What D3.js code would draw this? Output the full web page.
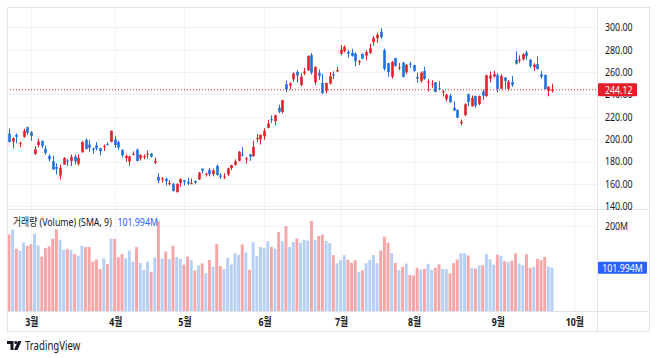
<!DOCTYPE html>
<html><head><meta charset="utf-8">
<script src="https://cdn.jsdelivr.net/npm/d3@7"></script>
<style>html,body{margin:0;padding:0;background:#fff;}svg{display:block;font-family:"Noto Sans","Noto Sans CJK KR",Roboto,sans-serif;}</style>
</head><body><svg id="c" width="658" height="358"></svg>
<script>
const dates = ["02-21","02-22","02-23","02-24","02-27","02-28",
"03-01","03-02","03-03","03-06","03-07","03-08","03-09","03-10","03-13","03-14","03-15","03-16","03-17","03-20","03-21","03-22","03-23","03-24","03-27","03-28","03-29","03-30","03-31",
"04-03","04-04","04-05","04-06","04-10","04-11","04-12","04-13","04-14","04-17","04-18","04-19","04-20","04-21","04-24","04-25","04-26","04-27","04-28",
"05-01","05-02","05-03","05-04","05-05","05-08","05-09","05-10","05-11","05-12","05-15","05-16","05-17","05-18","05-19","05-22","05-23","05-24","05-25","05-26","05-30","05-31",
"06-01","06-02","06-05","06-06","06-07","06-08","06-09","06-12","06-13","06-14","06-15","06-16","06-20","06-21","06-22","06-23","06-26","06-27","06-28","06-29","06-30",
"07-03","07-05","07-06","07-07","07-10","07-11","07-12","07-13","07-14","07-17","07-18","07-19","07-20","07-21","07-24","07-25","07-26","07-27","07-28","07-31",
"08-01","08-02","08-03","08-04","08-07","08-08","08-09","08-10","08-11","08-14","08-15","08-16","08-17","08-18","08-21","08-22","08-23","08-24","08-25","08-28","08-29","08-30","08-31",
"09-01","09-05","09-06","09-07","09-08","09-12","09-13","09-14","09-15","09-18","09-19","09-20","09-21","09-22","09-25","09-26"];
const futureDates = ["09-27","09-28","09-29","09-30","10-01","10-02"];

const open = [204.99,197.93,203.91,196.33,202.03,210.59,
206.21,186.74,194.80,198.54,191.38,185.04,180.25,175.13,167.46,177.31,180.80,180.37,184.52,178.08,188.28,199.30,195.26,191.65,194.42,192.00,193.13,195.58,197.53,
199.91,197.32,190.52,183.08,179.94,186.69,190.74,182.96,183.95,186.32,187.15,179.10,166.17,164.80,164.65,159.82,160.29,152.64,160.90,
163.17,161.88,160.01,162.71,163.97,173.72,168.95,172.55,168.70,176.07,167.66,165.65,168.41,174.22,177.17,180.70,186.20,182.56,186.54,184.62,200.10,199.78,
202.59,210.15,217.80,216.14,228.00,224.22,249.07,247.94,253.51,260.17,248.40,258.92,261.50,275.13,250.77,259.29,250.07,243.24,249.70,258.03,260.60,
276.49,278.82,278.09,277.30,276.47,268.65,276.33,274.59,277.01,286.63,290.15,296.04,279.56,268.00,255.85,272.38,263.66,268.31,259.86,267.48,
266.26,255.57,252.04,260.97,251.45,248.84,250.87,245.40,241.77,235.70,238.73,228.02,226.06,214.12,221.55,240.25,229.34,238.66,231.31,242.58,238.58,254.20,255.98,
257.26,245.00,255.14,245.07,251.22,270.76,270.07,271.32,277.55,271.16,264.35,267.04,257.85,257.40,243.38,242.98];
const high = [209.71,201.99,205.14,197.67,209.42,211.23,
207.20,193.75,200.48,198.60,194.20,186.50,185.18,178.29,177.35,183.80,182.34,186.22,186.22,186.44,198.00,200.66,199.31,192.36,197.39,192.35,195.29,197.33,207.79,
202.69,198.74,190.68,186.39,185.10,189.19,191.58,186.50,186.28,189.69,187.69,183.50,169.70,166.00,165.65,163.47,160.67,160.48,165.00,
163.28,165.49,165.00,162.95,170.79,173.80,169.82,174.43,173.57,177.38,169.76,169.52,174.50,177.06,181.95,189.32,192.96,184.22,186.78,198.60,204.48,203.95,
209.80,217.25,221.29,221.91,230.83,235.23,252.42,250.97,259.68,261.57,258.95,263.60,274.75,276.99,265.00,262.45,258.37,250.39,259.88,260.74,264.45,
284.25,283.85,279.97,280.78,277.52,270.90,276.52,279.45,285.30,292.23,295.26,299.29,280.93,268.00,269.85,272.90,268.04,269.13,267.25,269.08,
266.47,259.52,260.49,264.77,253.65,252.79,251.10,251.80,243.79,240.66,240.50,233.97,226.74,217.58,232.13,240.82,238.98,238.92,239.00,244.38,257.48,260.51,261.18,
259.08,258.00,255.39,252.81,256.52,278.39,274.98,276.71,278.98,271.44,267.85,273.93,260.86,257.79,247.10,249.55];
const low = [197.22,191.78,196.33,192.80,201.26,203.75,
198.52,186.01,192.88,192.30,186.10,180.00,172.51,168.44,163.91,177.14,176.03,176.10,177.33,176.35,188.04,190.95,188.65,187.15,189.94,185.43,189.44,194.42,197.20,
192.20,190.32,183.76,179.74,176.11,185.65,180.31,180.94,182.01,182.69,183.58,177.65,160.56,161.32,158.61,158.75,153.14,152.37,157.32,
158.83,158.93,159.91,159.65,163.51,169.19,166.56,166.68,166.79,167.23,164.55,164.35,167.19,172.45,176.31,180.11,184.67,178.22,180.58,184.53,197.53,195.12,
199.37,209.75,214.52,212.53,223.20,223.01,242.02,244.59,251.34,250.50,247.29,257.21,261.12,257.78,248.25,252.80,240.70,240.85,248.89,253.61,259.89,
275.11,277.60,272.88,273.77,265.10,266.37,271.46,270.60,276.31,283.57,286.01,289.52,261.20,255.80,254.12,265.00,261.75,255.30,258.23,263.78,
260.25,250.49,250.52,253.11,242.76,245.91,241.90,243.99,238.02,233.75,232.61,225.38,218.83,212.36,220.58,229.55,229.29,228.18,230.35,235.35,237.77,250.59,255.05,
242.01,244.86,245.06,243.27,246.67,266.60,268.10,270.42,271.00,263.76,261.20,262.46,254.21,244.48,238.31,241.66];
const close = [197.37,200.86,202.07,196.88,207.63,205.71,
202.77,190.90,197.79,193.81,187.71,182.00,172.92,173.44,174.48,183.26,180.45,184.13,180.13,183.25,197.58,191.15,192.22,190.41,191.81,189.19,193.88,195.28,207.46,
194.77,192.58,185.52,185.06,184.51,186.79,180.54,185.90,185.00,187.04,184.31,180.59,162.99,165.08,162.55,160.67,153.75,160.19,164.31,
161.83,160.31,160.61,161.20,170.06,171.79,169.15,168.54,172.08,167.98,166.35,166.52,173.86,176.89,180.14,188.87,185.77,182.90,184.47,193.17,201.16,203.93,
207.52,213.97,217.61,221.31,224.57,234.86,244.40,249.83,258.71,256.79,255.90,260.54,274.45,259.46,264.61,256.60,241.05,250.21,256.24,257.50,261.77,
279.82,282.48,276.54,274.43,269.61,269.79,271.99,277.90,281.38,290.38,293.34,291.26,262.90,260.02,269.06,265.28,264.35,255.71,266.44,267.43,
261.07,254.11,259.32,253.86,251.45,249.70,242.19,245.34,242.65,239.76,232.96,225.60,219.22,215.49,231.28,233.19,236.86,230.04,238.59,238.82,257.18,256.90,258.08,
245.01,256.49,251.92,251.49,248.50,267.48,271.30,276.04,274.39,265.28,266.50,262.59,255.70,244.88,246.99,244.12];
const volume = [180.0,191.8,146.4,142.2,161.0,153.1,
156.9,181.5,154.2,128.1,148.1,151.9,170.0,191.5,167.8,143.7,145.6,143.3,133.9,129.7,153.4,150.4,150.4,116.3,120.9,98.7,123.7,110.3,170.2,
169.5,126.5,133.9,123.9,142.2,115.8,150.3,112.9,96.4,116.1,92.1,125.7,210.9,123.5,140.0,121.9,153.4,127.0,122.5,
109.0,128.3,119.7,95.1,107.4,112.2,88.9,119.8,103.9,157.6,105.6,98.3,125.5,109.5,136.0,132.0,156.9,137.6,96.9,162.1,128.8,150.7,
148.0,164.1,151.1,146.9,185.7,164.5,199.9,150.3,162.4,170.6,160.2,167.6,165.6,211.8,166.9,176.6,179.9,164.9,159.8,131.3,112.3,
119.7,131.3,120.7,113.6,119.4,91.9,95.7,112.7,119.8,131.6,112.4,142.4,175.2,161.1,136.5,112.8,95.9,103.7,111.4,84.6,
83.2,101.8,97.6,99.2,111.1,96.7,101.6,109.7,98.9,98.6,88.2,112.5,120.7,136.3,135.7,130.6,101.1,99.8,106.6,107.7,134.0,121.9,108.9,
132.3,129.5,117.0,115.3,118.6,135.9,111.5,107.7,133.4,101.5,103.7,122.5,119.5,127.5,104.6,101.994];

const priceTicks = [300,280,260,240,220,200,180,160,140];
const volumeTicks = [200];
const monthTickDates = ["03-01","04-03","05-01","06-01","07-03","08-01","09-01","10-02"];
const monthLabels = ["3월","4월","5월","6월","7월","8월","9월","10월"];
const lastPrice = 244.12;
const lastVolumeLabel = "101.994M";
const legendText = "거래량 (Volume) (SMA, 9)";

const UP = "#e3202a", DOWN = "#1f6fde";
const VOL_DOWN = "#f6a6a7", VOL_UP = "#b6cff5";
const GRID = "#f1f3f8", BORDER = "#e0e3eb", TXT = "#131722";
const SX = 0.8; // horizontal text compression seen in the reference

const svg = d3.select("#c");
svg.append("rect").attr("width",658).attr("height",358).attr("fill","#fff");

const L=7, R=650, T=7, B=332, AX=597, P1=209, P2=311;
const allDates = dates.concat(futureDates);
const idx = new Map(allDates.map((d,i)=>[d,i]));
const x = d3.scaleLinear().domain([0, dates.length-1]).range([9, 552]);
const y = d3.scaleLinear().domain([140,300]).range([206.3,27.3]);
const yv = d3.scaleLinear().domain([0,200]).range([P2,226]);

function txt(sel, fx, fy){
  return sel.attr("transform",(d,i)=>`translate(${fx(d,i)},${fy(d,i)}) scale(${SX},1)`);
}

// gridlines
const g = svg.append("g");
g.selectAll(".hg").data(priceTicks).join("line")
  .attr("x1",L).attr("x2",AX).attr("y1",d=>Math.round(y(d))+0.5).attr("y2",d=>Math.round(y(d))+0.5)
  .attr("stroke",GRID);
g.selectAll(".vg").data(volumeTicks).join("line")
  .attr("x1",L).attr("x2",AX).attr("y1",d=>Math.round(yv(d))+0.5).attr("y2",d=>Math.round(yv(d))+0.5)
  .attr("stroke",GRID);
g.selectAll(".mg").data(monthTickDates).join("line")
  .attr("x1",d=>Math.round(x(idx.get(d)))+0.5).attr("x2",d=>Math.round(x(idx.get(d)))+0.5)
  .attr("y1",T).attr("y2",P2).attr("stroke",GRID);

svg.append("clipPath").attr("id","clip").append("rect").attr("x",L+0.5).attr("y",T).attr("width",AX-L-0.5).attr("height",P2-T);
const plot = svg.append("g").attr("clip-path","url(#clip)");

const bars = dates.map((d,i)=>({i, o:open[i], h:high[i], l:low[i], c:close[i], v:volume[i], up: close[i]>=open[i]}));

// volume
const bw = 2.9;
plot.selectAll(".vol").data(bars).join("rect")
  .attr("x",d=>x(d.i)-bw/2).attr("width",bw)
  .attr("y",d=>yv(d.v)).attr("height",d=>P2-yv(d.v))
  .attr("fill",d=>d.up?VOL_UP:VOL_DOWN);

// candles
plot.selectAll(".wick").data(bars).join("line")
  .attr("x1",d=>Math.round(x(d.i))+0.5).attr("x2",d=>Math.round(x(d.i))+0.5)
  .attr("y1",d=>y(d.h)).attr("y2",d=>y(d.l))
  .attr("stroke",d=>d.up?UP:DOWN).attr("stroke-width",1);
const cw = 2.6;
plot.selectAll(".body").data(bars).join("rect")
  .attr("x",d=>Math.round(x(d.i))+0.5-cw/2).attr("width",cw)
  .attr("y",d=>y(Math.max(d.o,d.c)))
  .attr("height",d=>Math.max(1, Math.abs(y(d.o)-y(d.c))))
  .attr("fill",d=>d.up?UP:DOWN);

// last price line
svg.append("line").attr("x1",L).attr("x2",AX).attr("y1",y(lastPrice)).attr("y2",y(lastPrice))
  .attr("stroke",UP).attr("stroke-dasharray","1,2").attr("stroke-width",1);

// frame & separators
svg.append("rect").attr("x",L+0.5).attr("y",T+0.5).attr("width",R-L-1).attr("height",B-T-1)
  .attr("fill","none").attr("stroke",BORDER);
svg.append("line").attr("x1",L).attr("x2",R).attr("y1",P1+0.5).attr("y2",P1+0.5).attr("stroke",BORDER);
svg.append("line").attr("x1",L).attr("x2",R).attr("y1",P2+0.5).attr("y2",P2+0.5).attr("stroke",BORDER);
svg.append("line").attr("x1",AX+0.5).attr("x2",AX+0.5).attr("y1",T).attr("y2",B).attr("stroke",BORDER);

// axis labels
const fs = 11;
txt(svg.selectAll(".pt").data(priceTicks).join("text"), ()=>605, d=>y(d))
  .attr("dy","0.35em").attr("font-size",fs).attr("fill",TXT).text(d=>d.toFixed(2));
txt(svg.selectAll(".vt").data(volumeTicks).join("text"), ()=>605, d=>yv(d))
  .attr("dy","0.35em").attr("font-size",fs).attr("fill",TXT).text(d=>d+"M");
txt(svg.selectAll(".mt").data(monthTickDates).join("text"), d=>x(idx.get(d))+1, ()=>322)
  .attr("dy","0.35em").attr("text-anchor","middle")
  .attr("font-size",fs).attr("font-weight","bold").attr("fill",TXT).text((d,i)=>monthLabels[i]);

// last price label
const py = y(lastPrice);
svg.append("rect").attr("x",AX+1).attr("y",py-6.5).attr("width",39).attr("height",13).attr("fill",UP).attr("rx",1);
txt(svg.append("text").datum(lastPrice), ()=>605, ()=>py).attr("dy","0.35em")
  .attr("font-size",fs).attr("fill","#fff").text(lastPrice.toFixed(2));
// last volume label
const vy = yv(volume[volume.length-1]);
svg.append("rect").attr("x",AX+1).attr("y",vy-6).attr("width",49).attr("height",12).attr("fill","#2962ff").attr("rx",1);
txt(svg.append("text").datum(0), ()=>AX+25.5, ()=>vy).attr("dy","0.35em").attr("text-anchor","middle")
  .attr("font-size",fs).attr("fill","#fff").text(lastVolumeLabel);

// legend
const lg = txt(svg.append("text").datum(0), ()=>13, ()=>222).attr("dy","0.35em").attr("font-size",fs).attr("fill",TXT);
lg.append("tspan").text(legendText);
lg.append("tspan").attr("dx",7).attr("fill","#2962ff").text(lastVolumeLabel);

// TradingView logo
const logo = svg.append("g").attr("transform","translate(7,341)").attr("fill",TXT);
logo.append("path").attr("d","M0 0 H6.5 V9 H3.5 V3 H0 Z");
logo.append("circle").attr("cx",8.8).attr("cy",1.5).attr("r",1.5);
logo.append("path").attr("d","M11 0 H14.5 L10.5 9 H7 Z");
txt(svg.append("text").datum(0), ()=>25, ()=>345.5).attr("dy","0.35em").attr("font-size",12).attr("fill",TXT).text("TradingView");
</script></body></html>
